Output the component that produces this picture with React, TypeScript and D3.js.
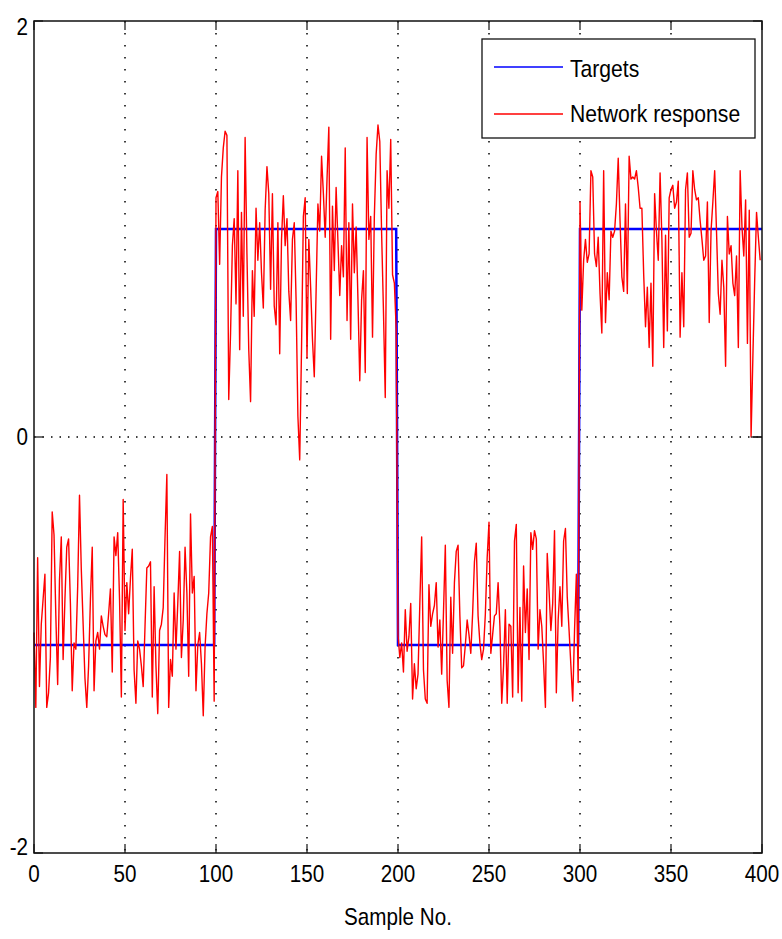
import * as d3 from "d3";

// network response, samples 0-99, 100-199, 200-299, 300-399
const response1 = [
  -0.94, -1.3, -0.58, -1.2, -0.9, -0.78, -0.66, -1.3, -1.23, -1.06,
  -0.36, -0.47, -0.86, -1.19, -0.69, -0.48, -1.07, -0.78, -0.53, -0.49,
  -0.8, -1.22, -0.99, -1.02, -0.72, -0.28, -0.64, -0.9, -1.16, -1.3,
  -1.1, -0.78, -0.53, -1.22, -0.98, -0.94, -1.02, -0.86, -0.91, -0.95,
  -0.96, -0.85, -0.73, -1.13, -0.48, -0.57, -0.46, -0.78, -1.25, -0.3,
  -0.93, -0.7, -0.85, -0.68, -0.54, -1.12, -1.28, -0.98, -1.02, -1.1,
  -1.2, -0.91, -0.63, -0.62, -0.6, -1.25, -0.72, -1.1, -1.33, -0.93,
  -0.9, -0.82, -0.48, -0.18, -1.3, -1.07, -1.15, -0.75, -1.02, -0.8,
  -0.55, -1.06, -0.88, -0.53, -0.75, -1.15, -0.37, -0.75, -0.67, -1.22,
  -1.0, -0.94, -1.09, -1.34, -1.01, -0.85, -0.75, -0.48, -0.43, -1.27,
];
const response2 = [
  1.15, 1.18, 0.83, 1.25, 1.39, 1.47, 1.45, 0.18, 0.5, 0.92,
  1.05, 0.64, 1.28, 0.42, 1.08, 0.58, 1.44, 0.88, 0.42, 0.17,
  0.8, 0.58, 1.1, 0.85, 1.03, 0.79, 0.62, 1.09, 1.3, 1.17,
  0.71, 1.17, 0.63, 0.54, 1.03, 0.4, 0.95, 1.16, 0.92, 1.05,
  0.7, 0.56, 0.95, 1.03, 0.66, 0.1, -0.11, 0.43, 1.06, 1.15,
  0.38, 0.95, 0.72, 0.47, 0.29, 0.7, 1.12, 0.99, 1.35, 1.17,
  0.96, 1.24, 1.49, 0.47, 1.11, 0.8, 1.2, 0.94, 0.68, 0.92,
  0.77, 1.39, 0.56, 1.03, 0.47, 1.12, 0.79, 1.01, 0.66, 0.27,
  0.66, 0.8, 0.31, 1.44, 0.95, 1.06, 0.48, 1.06, 1.36, 1.5,
  1.42, 0.98, 0.61, 0.19, 1.28, 1.1, 1.43, 0.78, 0.74, 0.52,
];
const response3 = [
  -0.95, -1.06, -0.99, -1.13, -0.83, -1.03, -0.96, -0.8, -1.26, -1.09,
  -1.21, -1.14, -0.8, -0.48, -1.12, -1.26, -1.28, -0.71, -0.91, -0.85,
  -0.81, -0.7, -1.01, -0.88, -1.14, -0.84, -0.52, -1.17, -1.3, -0.77,
  -1.04, -0.7, -0.55, -0.52, -0.86, -1.11, -1.1, -1.0, -0.88, -0.95,
  -1.04, -0.85, -0.6, -0.51, -0.86, -0.99, -1.07, -1.02, -0.85, -0.58,
  -0.41, -1.04, -0.95, -0.86, -0.85, -0.7, -0.91, -1.28, -1.1, -0.83,
  -1.28, -0.9, -0.91, -1.25, -0.5, -0.42, -1.23, -0.82, -1.27, -0.62,
  -0.94, -0.73, -1.07, -0.46, -0.54, -0.45, -0.49, -1.02, -0.83, -0.91,
  -1.09, -1.3, -0.56, -0.74, -0.93, -0.8, -0.45, -1.23, -0.88, -0.72,
  -0.91, -0.5, -0.44, -0.77, -0.93, -1.1, -1.27, -0.93, -0.66, -1.18,
];
const response4 = [
  1.13, 0.61, 0.85, 0.95, 0.84, 0.88, 1.28, 1.25, 0.88, 0.82,
  0.96, 0.69, 0.5, 1.28, 0.55, 0.79, 0.66, 0.99, 0.96, 0.99,
  1.12, 1.34, 1.04, 0.77, 0.7, 1.12, 0.69, 1.35, 1.24, 1.25,
  1.24, 1.28, 1.2, 1.1, 1.1, 0.78, 0.53, 0.72, 0.43, 0.74,
  0.34, 1.17, 0.99, 0.85, 1.27, 0.95, 0.43, 0.97, 0.51, 1.15,
  1.19, 1.21, 1.1, 1.13, 1.23, 0.48, 0.79, 0.53, 1.19, 1.27,
  0.96, 0.98, 1.28, 1.19, 1.14, 1.15, 1.04, 0.95, 0.85, 0.87,
  1.13, 0.55, 0.99, 1.13, 1.28, 0.99, 0.69, 0.59, 0.85, 0.72,
  0.34, 1.06, 0.88, 0.92, 0.74, 0.68, 0.87, 0.43, 1.28, 1.01,
  0.87, 1.14, 0.45, 1.09, 0.0, 0.39, 0.76, 1.08, 0.96, 0.85,
];
const response = [...response1, ...response2, ...response3, ...response4];

// targets: one level per block of 100 samples
const targetStarts = [0, 100, 200, 300];
const targetEnds = [99, 199, 299, 400];
const targetLevels = [-1, 1, -1, 1];
const zeroTail = [394, 400];

const xTicks = [0, 50, 100, 150, 200, 250, 300, 350, 400];
const yTicks = [-2, 0, 2];
const xGrid = [50, 100, 150, 200, 250, 300, 350];
const yGrid = [0];

const W = 782;
const H = 939;
const left = 34, right = 762, top = 21, bottom = 853;
const font = "'Liberation Sans', Arial, Helvetica, sans-serif";
const sx = 0.86;

export default function App() {
  const x = d3.scaleLinear().domain([0, 400]).range([left, right]);
  const y = d3.scaleLinear().domain([-2, 2]).range([bottom, top]);

  const targetPts: [number, number][] = [];
  targetLevels.forEach((lv, i) => {
    targetPts.push([targetStarts[i], lv]);
    targetPts.push([targetEnds[i], lv]);
  });
  const line = d3.line<[number, number]>().x((d) => x(d[0])).y((d) => y(d[1]));
  const respPts: [number, number][] = response.map((v, i) => [i, v]);

  const label = (tx: number, ty: number, s: string, anchor: string, scale = sx) => (
    <text
      transform={`translate(${tx},${ty}) scale(${scale},1)`}
      textAnchor={anchor}
      fontSize={24}
      fontFamily={font}
      fill="#000"
    >
      {s}
    </text>
  );

  return (
    <svg width={W} height={H} style={{ position: "absolute", left: 0, top: 0, background: "#fff" }}>
      <rect x={0} y={0} width={W} height={H} fill="#fff" />
      {/* grid */}
      {xGrid.map((g) => (
        <line key={"gx" + g} x1={x(g)} x2={x(g)} y1={top} y2={bottom} stroke="#000" strokeWidth={1.5} strokeDasharray="1.5,10.5" />
      ))}
      {yGrid.map((g) => (
        <line key={"gy" + g} x1={left} x2={right} y1={y(g)} y2={y(g)} stroke="#000" strokeWidth={1.5} strokeDasharray="1.5,7" />
      ))}
      {/* series */}
      <path d={line(targetPts) || ""} fill="none" stroke="#0000ff" strokeWidth={2.5} />
      <path d={line(respPts) || ""} fill="none" stroke="#ff0000" strokeWidth={1.4} strokeLinejoin="round" />
      <line x1={x(zeroTail[0])} x2={x(zeroTail[1])} y1={y(0)} y2={y(0)} stroke="#333" strokeWidth={1.5} />
      {/* frame */}
      <rect x={left} y={top} width={right - left} height={bottom - top} fill="none" stroke="#111" strokeWidth={1.5} />
      {/* ticks */}
      {xTicks.map((t) => (
        <g key={"tx" + t}>
          <line x1={x(t)} x2={x(t)} y1={bottom} y2={bottom - 9} stroke="#111" strokeWidth={1.2} />
          <line x1={x(t)} x2={x(t)} y1={top} y2={top + 9} stroke="#111" strokeWidth={1.2} />
          {label(x(t), 882, String(t), "middle")}
        </g>
      ))}
      {yTicks.map((t) => (
        <g key={"ty" + t}>
          <line x1={left} x2={left + 9} y1={y(t)} y2={y(t)} stroke="#111" strokeWidth={1.2} />
          <line x1={right} x2={right - 9} y1={y(t)} y2={y(t)} stroke="#111" strokeWidth={1.2} />
          {label(28, y(t) + 8 - (t === 2 ? -6 : t === -2 ? 6 : 0), String(t), "end")}
        </g>
      ))}
      {label((left + right) / 2, 925, "Sample No.", "middle")}
      {/* legend */}
      <rect x={482} y={39} width={273} height={99} fill="#fff" stroke="#111" strokeWidth={1.3} />
      <line x1={494} x2={563} y1={67} y2={67} stroke="#0000ff" strokeWidth={1.5} />
      <line x1={494} x2={563} y1={114} y2={114} stroke="#ff0000" strokeWidth={1.5} />
      {label(570, 77, "Targets", "start", 0.88)}
      {label(570, 122, "Network response", "start", 0.88)}
    </svg>
  );
}
